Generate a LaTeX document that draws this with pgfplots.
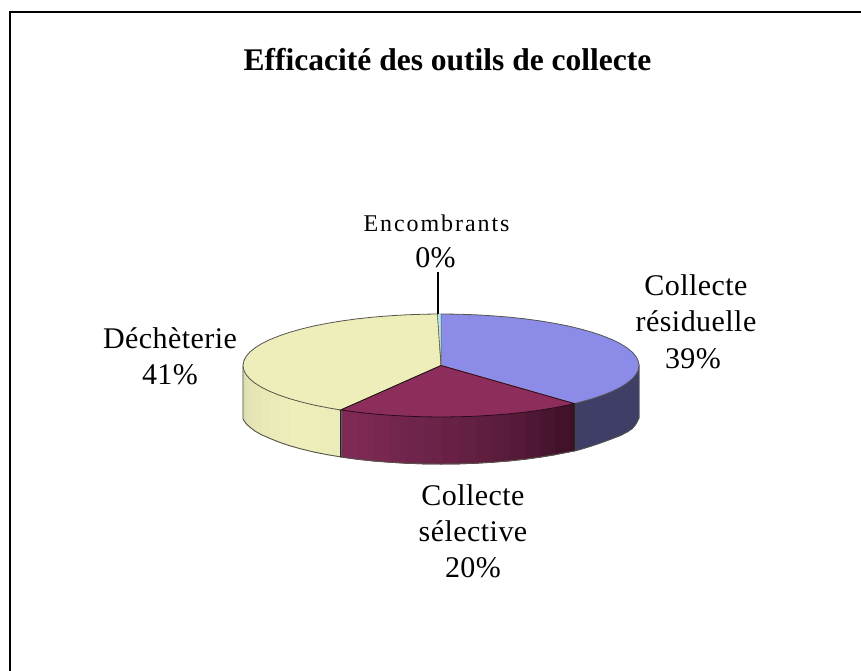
\documentclass[border=0pt]{standalone}
\usepackage{pgfplots}
\pgfplotsset{compat=1.18}
\usepackage{fontspec}
\setmainfont{Liberation Serif}
\newfontfamily\lab[LetterSpace=1.5]{Liberation Serif}
\newfontfamily\smalllab[LetterSpace=8]{Liberation Serif}
\definecolor{bluetop}{HTML}{8C8CE8}
\definecolor{bluewall}{HTML}{3E3E66}
\definecolor{martop}{HTML}{8C2D5C}
\definecolor{marA}{HTML}{7E2A55}
\definecolor{marB}{HTML}{3C1026}
\definecolor{yeltop}{HTML}{EEEEBB}
\definecolor{yelwall}{HTML}{DEDEB0}
\definecolor{edge}{HTML}{55554A}
\newcommand{\wall}[5]{%
  \pgfmathsetmacro{\ya}{#2+47}\pgfmathsetmacro{\yb}{#4+47}%
  \addplot[fill=#5,draw=#5,line width=1pt] coordinates {(#1,#2)(#3,#4)(#3,\yb)(#1,\ya)} -- cycle;}
\newcommand{\wallx}[7]{%
  \addplot[fill=#7,draw=#7,line width=1pt] coordinates {(#1,#2)(#3,#4)(#3,#6)(#1,#5)} -- cycle;}
\begin{document}
\begin{tikzpicture}
\begin{axis}[scale only axis,width=861pt,height=671pt,xmin=0,xmax=861,ymin=0,ymax=671,y dir=reverse,hide axis,clip=false]
% page extent
\addplot[draw=none,forget plot] coordinates {(0,0)(861,0)(861,671)(0,671)};
\path[use as bounding box] (axis cs:0,0) rectangle (axis cs:861,671);
% frame
\addplot[black,line width=2pt] coordinates {(9.5,671)(9.5,12)(861,12)};
% walls
\addplot[fill=bluewall,draw=bluewall,line width=.6pt] coordinates {(639,365.5)(636,374.4)(627.1,383.1)(612.5,391.25)(592.7,398.6)(574.3,403.6)(574.3,451)(581,449.2)(592.7,445.6)(603.2,442)(612.5,438.5)(620.4,435.5)(627.1,432)(632.3,428.5)(636,424)(639,418)} -- cycle;
\wall{574.3}{403.6}{568.3}{405}{marB}
\wall{568.3}{405}{554.6}{407.7}{marB!92!marA}
\wall{554.6}{407.7}{540}{410.1}{marB!82!marA}
\wall{540}{410.1}{524.7}{412.2}{marB!72!marA}
\wall{524.7}{412.2}{508.7}{413.9}{marB!62!marA}
\wall{508.7}{413.9}{492.2}{415.2}{marB!54!marA}
\wall{492.2}{415.2}{475.4}{416.2}{marB!46!marA}
\wall{475.4}{416.2}{458.3}{416.8}{marB!40!marA}
\wall{458.3}{416.8}{441}{417}{marB!34!marA}
\wall{441}{417}{423.7}{416.8}{marB!28!marA}
\wall{423.7}{416.8}{406.6}{416.2}{marB!22!marA}
\wall{406.6}{416.2}{389.8}{415.2}{marB!16!marA}
\wall{389.8}{415.2}{373.3}{413.9}{marB!10!marA}
\wall{373.3}{413.9}{357.3}{412.2}{marB!5!marA}
\wall{357.3}{412.2}{342}{410.1}{marA}
\wall{342}{410.1}{340.7}{410}{marA}
\wall{340.7}{410}{327.4}{407.7}{yeltop!90!yelwall}
\wall{327.4}{407.7}{313.7}{405}{yeltop!95!yelwall}
\wall{313.7}{405}{301}{401.9}{yeltop}
\wall{301}{401.9}{289.3}{398.6}{yeltop}
\wall{289.3}{398.6}{278.8}{395}{yeltop!90!yelwall}
\wall{278.8}{395}{269.5}{391.25}{yeltop!80!yelwall}
\wall{269.5}{391.25}{261.6}{387.3}{yeltop!70!yelwall}
\wallx{261.6}{387.3}{254.9}{383.1}{434.8}{431}{yeltop!55!yelwall}
\wallx{254.9}{383.1}{249.7}{378.8}{431}{427}{yeltop!40!yelwall}
\wallx{249.7}{378.8}{246}{374.4}{427}{423.5}{yeltop!25!yelwall}
\wallx{246}{374.4}{243}{365.5}{423.5}{419}{yelwall}
% wall edges
\addplot[edge,line width=.9pt] coordinates {(243,365.5)(243,419)(246,423.5)(249.7,427)(254.9,431)(261.6,434.8)(269.5,438.25)(278.8,442)(289.3,445.6)(301,448.9)(313.7,452)(327.4,454.7)(342,457.1)(357.3,459.2)(373.3,460.9)(389.8,462.2)(406.6,463.2)(423.7,463.8)(441,464)(458.3,463.8)(475.4,463.2)(492.2,462.2)(508.7,460.9)(524.7,459.2)(540,457.1)(554.6,454.7)(568.3,452)(574.3,451)(581,449.2)(592.7,445.6)(603.2,442)(612.5,438.5)(620.4,435.5)(627.1,432)(632.3,428.5)(636,424)(639,418)(639,365.5)};
\addplot[black!85,line width=1pt] coordinates {(340.7,410)(340.7,457)};
\addplot[black!85,line width=.9pt] coordinates {(574.3,403.6)(574.3,451)};
% top faces
\addplot[fill=yeltop,draw=edge,line width=.8pt] coordinates {(441,365.5)(340.7,410)(327.4,407.7)(313.7,405)(301,401.9)(289.3,398.6)(278.8,395)(269.5,391.25)(261.6,387.3)(254.9,383.1)(249.7,378.8)(246,374.4)(243.8,370)(243,365.5)(243.8,361)(246,356.6)(249.7,352.2)(254.9,347.9)(261.6,343.7)(269.5,339.75)(278.8,336)(289.3,332.4)(301,329.1)(313.7,326)(327.4,323.3)(342,320.9)(357.3,318.8)(373.3,317.1)(389.8,315.8)(406.6,314.8)(423.7,314.2)(437.5,314)} -- cycle;
\addplot[fill=bluetop,draw=edge,line width=.8pt] coordinates {(441,365.5)(441,314)(458.3,314.2)(475.4,314.8)(492.2,315.8)(508.7,317.1)(524.7,318.8)(540,320.9)(554.6,323.3)(568.3,326)(581,329.1)(592.7,332.4)(603.2,336)(612.5,339.75)(620.4,343.7)(627.1,347.9)(632.3,352.2)(636,356.6)(638.2,361)(639,365.5)(638.2,370)(636,374.4)(632.3,378.8)(627.1,383.1)(620.4,387.3)(612.5,391.25)(603.2,395)(592.7,398.6)(581,401.9)(574.3,403.6)} -- cycle;
\addplot[fill=martop,draw=black!70!martop,line width=.8pt] coordinates {(441,365.5)(574.3,403.6)(568.3,405)(554.6,407.7)(540,410.1)(524.7,412.2)(508.7,413.9)(492.2,415.2)(475.4,416.2)(458.3,416.8)(441,417)(423.7,416.8)(406.6,416.2)(389.8,415.2)(373.3,413.9)(357.3,412.2)(342,410.1)(340.7,410)} -- cycle;
\addplot[fill=cyan!30,draw=edge,line width=.4pt] coordinates {(441,365.5)(437.5,314)(441,314)} -- cycle;
% leader
\addplot[black,line width=1.3pt] coordinates {(438,272)(438,314)};
% text
\node[anchor=base,font=\fontsize{31.5}{31.5}\selectfont\bfseries] at (axis cs:447.5,70.7) {Efficacité des outils de collecte};
\node[anchor=base,font=\fontsize{24}{24}\smalllab] at (axis cs:436.5,231) {Encombrants};
\node[anchor=base,font=\fontsize{30}{30}\lab] at (axis cs:435.5,267) {0\%};
\node[anchor=base,font=\fontsize{30}{30}\lab] at (axis cs:696,295) {Collecte};
\node[anchor=base,font=\fontsize{30}{30}\lab] at (axis cs:696,331) {résiduelle};
\node[anchor=base,font=\fontsize{30}{30}\lab] at (axis cs:693,368) {39\%};
\node[anchor=base,font=\fontsize{30}{30}\lab] at (axis cs:170,348) {Déchèterie};
\node[anchor=base,font=\fontsize{30}{30}\lab] at (axis cs:170,384) {41\%};
\node[anchor=base,font=\fontsize{30}{30}\lab] at (axis cs:473,505) {Collecte};
\node[anchor=base,font=\fontsize{30}{30}\lab] at (axis cs:473,541) {sélective};
\node[anchor=base,font=\fontsize{30}{30}\lab] at (axis cs:473,577) {20\%};
\end{axis}
\end{tikzpicture}
\end{document}
